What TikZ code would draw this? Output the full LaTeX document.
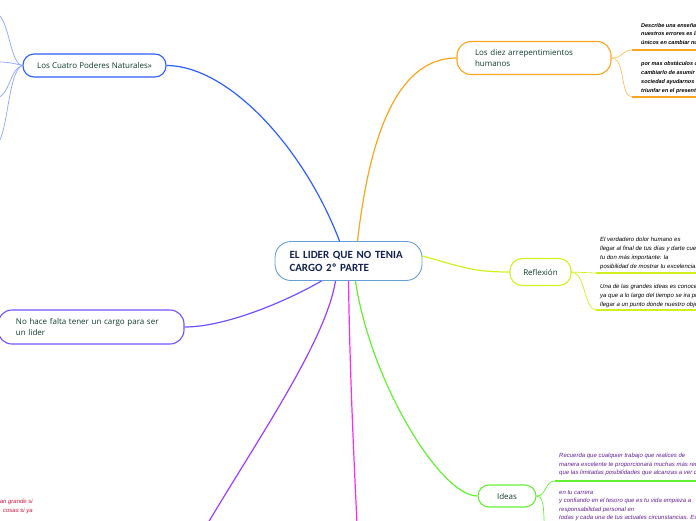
\documentclass[tikz,border=0pt]{standalone}
\usepackage{fontspec}
\setmainfont{Open Sans}
\newfontfamily\carlito{Carlito}
\newfontfamily\arialf{Liberation Sans}
\definecolor{nodetext}{RGB}{14,60,45}
\definecolor{centertext}{RGB}{20,35,80}
\definecolor{centerborder}{RGB}{100,160,215}
\definecolor{cblue}{RGB}{45,95,255}
\definecolor{clblue}{RGB}{140,165,255}
\definecolor{corange}{RGB}{250,165,30}
\definecolor{cyellow}{RGB}{210,240,30}
\definecolor{cpblue}{RGB}{115,80,255}
\definecolor{cviolet}{RGB}{160,60,255}
\definecolor{cmagenta}{RGB}{255,40,240}
\definecolor{cgreen}{RGB}{100,240,50}
\definecolor{cpurpletext}{RGB}{100,30,150}
\definecolor{credtext}{RGB}{205,20,60}
\tikzset{
  topic/.style={draw, line width=1.1pt, fill=white, inner xsep=0pt, inner ysep=0pt,
    font=\fontsize{8}{11.5}\selectfont, text=nodetext, align=left},
  centerbox/.style={draw=centerborder, line width=0.9pt, fill=white, rounded corners=16pt,
    inner xsep=0pt, inner ysep=0pt, font=\carlito\bfseries\fontsize{11}{13}\selectfont,
    text=centertext, align=left, minimum width=147pt, minimum height=39pt, text width=118pt},
  conn/.style={line width=1.2pt},
  sub/.style={line width=0.7pt},
  uline/.style={line width=1.8pt},
  leaf/.style={anchor=north west, inner sep=0pt, align=left,
    font=\arialf\itshape\fontsize{6}{9}\selectfont},
}
\begin{document}
\begin{tikzpicture}[x=1pt,y=-1pt]
\path[use as bounding box] (0,0) rectangle (696,520);
\clip (0,0) rectangle (696,520);

% nodes
\node[centerbox] (c) at (348.5,261) {EL LIDER QUE NO TENIA\\CARGO 2º PARTE};
\node[topic, draw=cblue, rounded corners=11pt, minimum width=143pt, minimum height=23pt, align=center] (cuatro) at (94.5,65.5) {Los Cuatro Poderes Naturales»};
\node[topic, draw=corange, rounded corners=14pt, minimum width=154pt, minimum height=33pt, text width=118pt] (diez) at (534,58) {Los diez arrepentimientos\\humanos};
\node[topic, draw=cyellow, rounded corners=12pt, minimum width=61pt, minimum height=27pt, align=center] (refl) at (540.5,272) {Reflexión};
\node[topic, draw=cpblue, rounded corners=14pt, minimum width=186pt, minimum height=34pt, text width=150pt] (nohace) at (91,327) {No hace falta tener un cargo para ser\\un lider};
\node[topic, draw=cgreen, rounded corners=11pt, minimum width=58pt, minimum height=22pt, align=center] (ideas) at (507,496) {Ideas};

% off-canvas ends
\coordinate (violetend) at (195,545);
\coordinate (magentaend) at (358,545);
\coordinate (lb1) at (-3,13);
\coordinate (lb2) at (-3,62);
\coordinate (lb3) at (-3,98);
\coordinate (lb4) at (-3,144);

% main connectors
\draw[conn, cblue] ([xshift=-9pt]c.north) .. controls (305,150) and (230,66) .. (cuatro.east);
\draw[conn, corange] ([xshift=9pt]c.north) .. controls (368,150) and (392,58) .. (diez.west);
\draw[conn, cyellow] ([yshift=5pt]c.east) .. controls (460,266) and (470,272) .. (refl.west);
\draw[conn, cpblue] ([xshift=-27pt]c.south) .. controls (285,302) and (225,327) .. (nohace.east);
\draw[conn, cviolet] ([xshift=-13pt]c.south) .. controls (325,345) and (250,450) .. (violetend);
\draw[conn, cmagenta] ([xshift=0pt]c.south) .. controls (350,380) and (354,460) .. (magentaend);
\draw[conn, cgreen] ([xshift=7pt]c.south) .. controls (370,380) and (440,496) .. (ideas.west);

% left sub-branches of Los Cuatro Poderes
\draw[sub, clblue] (cuatro.west) .. controls (10,64) and (10,22) .. (lb1);
\draw[sub, clblue] (cuatro.west) .. controls (12,63) and (8,62) .. (lb2);
\draw[sub, clblue] (cuatro.west) .. controls (10,68) and (10,95) .. (lb3);
\draw[sub, clblue] (cuatro.west) .. controls (8,70) and (8,135) .. (lb4);

% orange leaves
\coordinate (o1) at (632,50);
\coordinate (o2) at (632,97);
\draw[sub, corange!70] (diez.east) .. controls +(12,0) and +(-10,0) .. (o1);
\draw[sub, corange!70] (diez.east) .. controls +(14,0) and +(-12,0) .. (o2);
\draw[uline, corange] (o1) -- ++(80,0);
\draw[uline, corange] (o2) -- ++(80,0);
\node[leaf, font=\arialf\bfseries\itshape\fontsize{5.5}{8.5}\selectfont] (ot1) at (641,23) {Describe una enseñanza\\nuestros errores es la\\únicos en cambiar nuestro};
\node[leaf, font=\arialf\bfseries\itshape\fontsize{5.5}{9}\selectfont] (ot2) at (641,61) {por mas obstáculos o a\\cambiarlo de asumir t\\sociedad ayudarnos d\\triunfar en el presente};

% reflexion leaves
\coordinate (r1) at (596,273);
\coordinate (r2) at (596,310);
\draw[sub, cyellow] (refl.east) .. controls +(12,0) and +(-12,0) .. (r1);
\draw[sub, cyellow] (refl.east) .. controls +(14,0) and +(-12,0) .. (r2);
\draw[uline, cyellow] (r1) -- ++(110,0);
\draw[uline, cyellow] (r2) -- ++(110,0);
\node[leaf, font=\arialf\itshape\fontsize{6}{9}\selectfont] (rt1) at (600,236.5) {El verdadero dolor humano es\\llegar al final de tus días y darte cuenta\\tu don más importante: la\\posibilidad de mostrar tu excelencia.};
\node[leaf, font=\arialf\itshape\fontsize{6}{9.3}\selectfont] (rt2) at (600,283.5) {Una de las grandes ideas es conocer el\\ya que a lo largo del tiempo se ira procesando\\llegar a un punto donde nuestro objetivo};

% ideas leaves
\coordinate (i1) at (555,481);
\coordinate (i2) at (546,535);
\draw[sub, cgreen] (ideas.east) .. controls +(10,0) and +(-10,0) .. (i1);
\draw[sub, cgreen] (ideas.east) .. controls +(10,0) and +(-4,-15) .. (i2);
\draw[uline, cgreen] (i1) -- ++(150,0);
\node[leaf, text=cpurpletext, font=\arialf\itshape\fontsize{6}{8.7}\selectfont] (it1) at (559,453) {Recuerda que cualquier trabajo que realices de\\manera excelente te proporcionará muchas más recompensas\\que las limitadas posibilidades que alcanzas a ver con};
\node[leaf, text=cpurpletext, font=\arialf\itshape\fontsize{6}{8.5}\selectfont] (it2) at (559,490) {en tu carrera\\ y confiando en el tesoro que es tu vida empieza a\\responsabilidad personal en\\todas y cada una de tus actuales circunstancias. Es};

% red fragment bottom-left
\node[leaf, anchor=north east, align=right, text=credtext] (redt) at (33,499) {an grande si\\cosas si ya};
\end{tikzpicture}
\end{document}
